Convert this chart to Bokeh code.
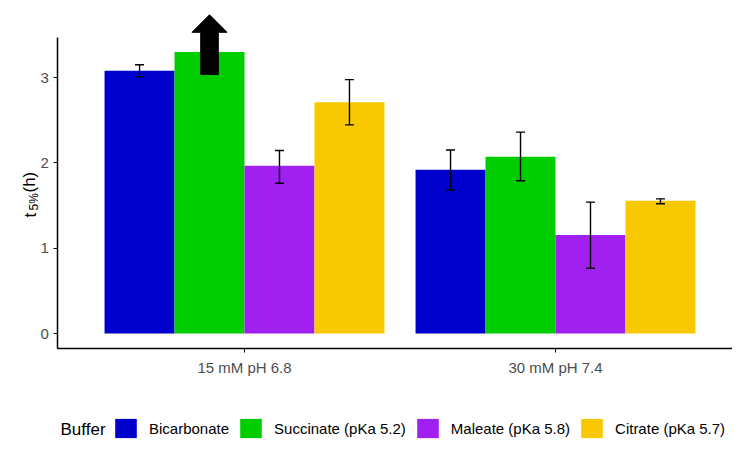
import math
from bokeh.plotting import figure
from bokeh.models import (ColumnDataSource, Range1d, Whisker, TeeHead, Legend,
                          LegendItem, Label)
from bokeh.transform import dodge
from bokeh.embed import file_html
from bokeh.resources import INLINE

# ---- data ----
conds = ["15 mM pH 6.8", "30 mM pH 7.4"]
buffers = ["Bicarbonate", "Succinate (pKa 5.2)", "Maleate (pKa 5.8)", "Citrate (pKa 5.7)"]
colors = ["#0000CD", "#00CD00", "#A020F0", "#F8C800"]

bicarbonate = [3.08, 1.92]
bicarbonate_lo = [3.01, 1.68]
bicarbonate_hi = [3.15, 2.15]

succinate = [3.30, 2.07]
succinate_lo = [None, 1.79]
succinate_hi = [None, 2.36]

maleate = [1.965, 1.155]
maleate_lo = [1.76, 0.765]
maleate_hi = [2.145, 1.54]

citrate = [2.71, 1.555]
citrate_lo = [2.445, 1.52]
citrate_hi = [2.975, 1.578]

y_ticks = [0, 1, 2, 3]

# arrow marking a value beyond the measured range
arrow_cond = "15 mM pH 6.8"
arrow_buffer = "Succinate (pKa 5.2)"
arrow_base = 3.035
arrow_tip = 3.735

series = [
    (bicarbonate, bicarbonate_lo, bicarbonate_hi),
    (succinate, succinate_lo, succinate_hi),
    (maleate, maleate_lo, maleate_hi),
    (citrate, citrate_lo, citrate_hi),
]

FONT = "Liberation Sans"
W, H = 732, 442
bar_w = 0.225
offsets = [-1.5 * bar_w, -0.5 * bar_w, 0.5 * bar_w, 1.5 * bar_w]
xpos = [i + 1 for i in range(len(conds))]

# scales (px per unit) chosen so the panel matches the reference layout
px_x, c1_px = 311.0, 244.0
px_y, zero_px = 85.33, 333.0
x_lo, x_hi = 0.4, 2.6                     # panel limits (like ggplot expand)
y_axis_lo, y_axis_hi = -0.1758, 3.47      # panel limits on y

p = figure(width=W, height=H, output_backend="svg", toolbar_location=None,
           x_range=Range1d(1 - c1_px / px_x, 1 + (W - c1_px) / px_x),
           y_range=Range1d(-(H - zero_px) / px_y, zero_px / px_y),
           min_border_left=0, min_border_right=0, min_border_top=0, min_border_bottom=0)
p.outline_line_color = None
p.xgrid.grid_line_color = None
p.ygrid.grid_line_color = None
p.background_fill_color = "white"

items = []
for (vals, lo, hi), name, col, off in zip(series, buffers, colors, offsets):
    src = ColumnDataSource(dict(x=xpos, val=vals))
    r = p.vbar(x=dodge("x", off), top="val", width=bar_w, bottom=0,
               source=src, fill_color=col, line_color=None)
    items.append(LegendItem(label=name, renderers=[r]))
    ex, el, eh = [], [], []
    for xv, a, b in zip(xpos, lo, hi):
        if a is not None:
            ex.append(xv); el.append(a); eh.append(b)
    esrc = ColumnDataSource(dict(x=ex, lower=el, upper=eh))
    w = Whisker(source=esrc, base=dodge("x", off), lower="lower", upper="upper",
                dimension="height", line_color="black", line_width=1.4, level="overlay",
                upper_head=TeeHead(size=9, line_color="black", line_width=1.4),
                lower_head=TeeHead(size=9, line_color="black", line_width=1.4))
    p.add_layout(w)

# arrow (shape computed around the succinate bar centre)
cx = xpos[conds.index(arrow_cond)] + offsets[buffers.index(arrow_buffer)]
head_half = 17.5 / px_x
shaft_half = 8.8 / px_x
head_len = 17.5 / px_y
hb = arrow_tip - head_len
p.patch(x=[cx - shaft_half, cx - shaft_half, cx - head_half, cx, cx + head_half,
           cx + shaft_half, cx + shaft_half],
        y=[arrow_base, hb, hb, arrow_tip, hb, hb, arrow_base],
        fill_color="black", line_color="black", line_width=1)

# axes, drawn at the panel edges
xa, ya = p.xaxis[0], p.yaxis[0]
for ax in (xa, ya):
    ax.axis_line_color = "black"
    ax.axis_line_width = 1.5
    ax.major_tick_line_color = "black"
    ax.major_tick_in = 0
    ax.major_tick_out = 4
    ax.minor_tick_line_color = None
    ax.major_label_text_color = "#4D4D4D"
    ax.major_label_text_font = FONT
    ax.major_label_text_font_size = "15px"
ya.fixed_location = x_lo
ya.bounds = (y_axis_lo, y_axis_hi)
ya.ticker = y_ticks
ya.major_label_standoff = 5
xa.fixed_location = y_axis_lo
xa.bounds = (x_lo, x_hi)
xa.ticker = xpos
xa.major_label_overrides = {xv: c for xv, c in zip(xpos, conds)}
xa.major_label_standoff = 6

# y axis title with subscript
def ylab(text, x, y, size):
    p.add_layout(Label(x=x, y=y, x_units="screen", y_units="screen", text=text,
                       angle=math.pi / 2, text_align="left", text_baseline="alphabetic",
                       text_font=FONT, text_font_size=size, text_color="black"))

ylab("t", 29.5, H - 217, "17px")
ylab("5%", 33, H - 210, "12px")
ylab("(h)", 28.5, H - 192, "17px")

# legend
legend = Legend(items=items, orientation="horizontal", location=(112, 2),
                glyph_width=27, glyph_height=24, label_height=24, label_standoff=10,
                spacing=8, padding=0, margin=0, border_line_color=None,
                background_fill_alpha=0, label_text_font=FONT,
                label_text_font_size="15px", label_text_color="black")
p.add_layout(legend, "center")
p.add_layout(Label(x=60, y=H - 429, x_units="screen", y_units="screen", text="Buffer",
                   text_align="left", text_baseline="alphabetic", text_font=FONT,
                   text_font_size="17px", text_color="black"))

open("out.html", "w").write(file_html(p, INLINE))
